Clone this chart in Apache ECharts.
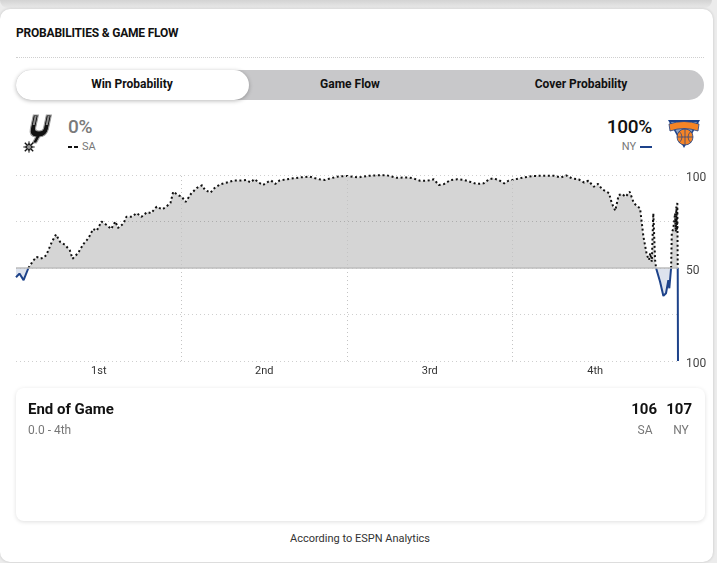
<!DOCTYPE html>
<html>
<head>
<meta charset="utf-8">
<script src="https://cdn.jsdelivr.net/npm/echarts@6/dist/echarts.min.js"></script>
<style>
  html, body { margin:0; padding:0; }
  body { width:717px; height:563px; position:relative; overflow:hidden; background:#ececec;
         font-family: "Roboto", "Liberation Sans", sans-serif; color:#111; }
  .topstrip { position:absolute; left:0; top:0; width:712px; height:8px;
              background:linear-gradient(#d3d3d3,#e9e9e9); border-radius:0 0 8px 8px; }
  .card { position:absolute; left:0; top:9px; width:713px; height:553px; background:#fff;
          border-radius:10px; box-shadow:0 0 3px rgba(0,0,0,.18); }
  .abs { position:absolute; white-space:nowrap; }
  .title { left:16px; top:26px; font-size:12px; font-weight:700; letter-spacing:-0.2px; }
  .sep { left:16px; top:57px; width:688px; height:0; border-top:1px dotted #cfcfcf; }
  .tabs { left:16px; top:70px; width:688px; height:30px; background:#c8c8ca; border-radius:15px; }
  .tabon { left:16px; top:70px; width:233px; height:30px; background:#fff; border-radius:15px;
           box-shadow:0 1px 4px rgba(0,0,0,.28); }
  .tabtxt { top:77px; font-size:12px; font-weight:700; transform:translateX(-50%); }
  .pct { top:115px; font-size:19px; font-weight:500; letter-spacing:-0.3px; }
  .abbr { top:140px; font-size:11px; color:#777; }
  .dash { display:inline-block; width:4px; height:2px; background:#111; vertical-align:middle; margin-right:2px; }
  #chart { position:absolute; left:0; top:160px; width:717px; height:225px; }
  .box { left:16px; top:388px; width:689px; height:133px; background:#fff; border-radius:8px;
         box-shadow:0 1px 4px rgba(0,0,0,.13); }
  .eog { font-size:15px; font-weight:700; top:400px; }
  .sub { font-size:12px; color:#777; top:423px; }
  .foot { left:360px; top:532px; font-size:11px; color:#333; transform:translateX(-50%); }
</style>
</head>
<body>
<div class="topstrip"></div>
<div class="card"></div>

<div class="abs title">PROBABILITIES &amp; GAME FLOW</div>
<div class="abs sep"></div>
<div class="abs tabs"></div>
<div class="abs tabon"></div>
<div class="abs tabtxt" style="left:132px">Win Probability</div>
<div class="abs tabtxt" style="left:350px">Game Flow</div>
<div class="abs tabtxt" style="left:581px">Cover Probability</div>

<!-- Spurs logo (simplified) -->
<svg class="abs" style="left:20px;top:112px" width="34" height="42" viewBox="0 0 34 42">
  <g transform="skewX(-12) translate(6,0)">
    <path d="M8 3 h5 v13 q0 3 4 3 q4 0 4 -3 v-13 h5 v14 q0 7 -7 8 l-2 6 h-4 l2 -6 q-7 -1 -7 -8 z"
          fill="#111" stroke="#a0a0a0" stroke-width="1.1"/>
    <rect x="9.5" y="4" width="2" height="9" fill="#8c8c8c"/>
    <rect x="22.5" y="4" width="2" height="9" fill="#8c8c8c"/>
  </g>
  <g transform="translate(9,35)">
    <path d="M0 -6 L1.6 -1.6 L6 0 L1.6 1.6 L0 6 L-1.6 1.6 L-6 0 L-1.6 -1.6 Z" fill="#111" stroke="#888" stroke-width="0.6"/>
    <path d="M-4.2 -4.2 L4.2 4.2 M4.2 -4.2 L-4.2 4.2" stroke="#111" stroke-width="1.4"/>
    <circle r="2" fill="#9a9a9a"/>
  </g>
</svg>

<div class="abs pct" style="left:68px;color:#7a7a7a">0%</div>
<div class="abs abbr" style="left:68px"><span class="dash"></span><span class="dash" style="margin-right:4px"></span>SA</div>

<div class="abs pct" style="right:65px;color:#111">100%</div>
<div class="abs abbr" style="right:65px">NY<span style="display:inline-block;width:12px;height:2px;background:#1d428a;vertical-align:middle;margin-left:4px"></span></div>

<!-- Knicks logo (simplified) -->
<svg class="abs" style="left:666px;top:114px" width="36" height="36" viewBox="0 0 36 36">
  <path d="M2 6 L34 6 L18 34 Z" fill="#1d428a"/>
  <path d="M5 8 L31 8 L18 31 Z" fill="#8fa3c4"/>
  <path d="M3 10 Q18 5 33 10 L32 17 Q18 12 4 17 Z" fill="#f58426" stroke="#1d428a" stroke-width="0.8"/>
  <circle cx="19" cy="23" r="8" fill="#f58426" stroke="#1d428a" stroke-width="0.8"/>
  <path d="M11 23 H27 M19 15 V31 M13 17 Q19 23 13 29 M25 17 Q19 23 25 29" stroke="#1d428a" stroke-width="0.7" fill="none"/>
</svg>

<div id="chart"></div>

<div class="abs box"></div>
<div class="abs eog" style="left:28px">End of Game</div>
<div class="abs sub" style="left:28px">0.0 - 4th</div>
<div class="abs eog" style="right:60px">106</div>
<div class="abs eog" style="right:25px">107</div>
<div class="abs sub" style="left:645px;transform:translateX(-50%)">SA</div>
<div class="abs sub" style="left:681px;transform:translateX(-50%)">NY</div>
<div class="abs foot">According to ESPN Analytics</div>

<script>
// Game time in minutes elapsed (0-48)
var times = [
  0, 0.25, 0.55, 0.9, 1.25, 1.5, 1.75, 2.0, 2.2, 2.6, 2.9, 3.2, 3.55, 3.9, 4.1, 4.5, 4.9, 5.25, 5.6, 5.85,
  6.2, 6.6, 6.9, 7.2, 7.4, 7.8, 8.0, 8.4, 8.75, 9.1, 9.5, 9.8, 10.2, 10.6, 10.9, 11.2, 11.4, 11.8, 12.0, 12.3,
  12.7, 13.1, 13.5, 13.7, 14.1, 14.4, 14.8, 15.3, 15.8, 16.2, 16.7, 17.0, 17.3, 17.6, 17.9, 18.3, 18.5, 18.8, 19.1, 19.6,
  20.1, 20.6, 21.3, 21.7, 22.0, 22.4, 22.8, 23.3, 24.0, 24.8, 25.5, 26.2, 26.9, 27.6, 28.4, 28.8, 29.3, 29.8, 30.3, 30.65,
  31.05, 31.5, 32.0, 32.5, 32.9, 33.4, 33.9, 34.3, 34.6, 35.0, 35.4, 35.7, 36.2, 36.8, 37.5, 38.3, 39.0, 39.5, 39.9, 40.3,
  40.8, 41.2, 41.5, 41.9, 42.2, 42.5, 43.0, 43.2, 43.45, 43.7, 43.95, 44.2, 44.5, 44.8, 45.25, 45.49, 45.74, 45.9, 45.98, 46.1,
  46.21, 46.34, 46.41, 46.7, 46.94, 47.13, 47.3, 47.37, 47.5, 47.55, 47.66, 47.79, 47.84, 47.88, 47.93, 47.95, 47.98, 48
];
// San Antonio win probability (%) ; New York = 100 - value
var saWinProb = [
  45, 47, 43.5, 50, 54, 56, 55, 55.5, 57, 64, 68, 64, 62.5, 59.5, 55, 58, 63, 66, 71, 70,
  75, 73, 71, 75, 71.5, 74, 77.5, 77.5, 79.5, 77.5, 80, 79.5, 83, 81.5, 83, 85, 91, 89, 88.5, 85.5,
  90, 93, 94.5, 92, 90.5, 93, 95, 96, 97, 97, 97.3, 96, 97.8, 96, 94.6, 96.4, 97, 95.2, 97, 97.7,
  98.2, 98.7, 99.1, 98.2, 97.7, 97.3, 98.2, 99.1, 99.5, 98.7, 99.5, 99.8, 99.8, 98.5, 98.7, 98.2, 96.9, 96.9, 97.7, 94.6,
  95.2, 97.3, 97.7, 97.3, 96.4, 95.2, 95.5, 97.7, 98.2, 97.3, 95.5, 96.9, 97.7, 98.7, 99.5, 99.6, 99.6, 98.7, 99.8, 98.2,
  97.7, 95.9, 96.9, 93.7, 95.2, 92.3, 90.2, 84.8, 80.8, 89.2, 89.8, 88.3, 91, 84.8, 82, 67, 57, 54.3, 58, 53.4,
  79.4, 54.3, 50, 42.6, 35, 36.4, 43.5, 39.1, 50, 68.6, 71.3, 79.4, 69.5, 83, 70.4, 85.6, 50, 0
];
var quarterLabels = ['1st', '2nd', '3rd', '4th'];
var quarterCenters = [6, 18, 30, 42];
var quarterBreaks = [12, 24, 36];

var saData = times.map(function (t, i) { var v = saWinProb[i]; return [t, v >= 50 ? v : '-']; });
var nyData = times.map(function (t, i) { var v = saWinProb[i]; return [t, v <= 50 ? v : '-']; });

var chart = echarts.init(document.getElementById('chart'), null, { renderer: 'canvas' });
chart.setOption({
  animation: false,
  grid: { left: 16, right: 39, top: 15, bottom: 24 },
  xAxis: {
    type: 'value', min: 0, max: 48, interval: 6,
    axisLine: { show: false }, axisTick: { show: false }, splitLine: { show: false },
    axisLabel: {
      margin: 5, color: '#333', fontSize: 11, fontFamily: 'Roboto',
      showMinLabel: false, showMaxLabel: false,
      formatter: function (v) { var k = quarterCenters.indexOf(v); return k >= 0 ? quarterLabels[k] : ''; }
    }
  },
  yAxis: {
    type: 'value', min: 0, max: 100, interval: 25, position: 'right',
    axisLine: { show: false }, axisTick: { show: false },
    splitLine: { show: true, lineStyle: { color: '#cfcfcf', type: [1, 3], width: 1 } },
    axisLabel: {
      margin: 8, color: '#444', fontSize: 12, fontFamily: 'Roboto', verticalAlign: 'top', padding: [-3, 0, 0, 0],
      formatter: function (v) { return (v === 100 || v === 0) ? '100' : (v === 50 ? '50' : ''); }
    }
  },
  series: [
    {
      name: 'SA', type: 'line', data: saData, showSymbol: false, connectNulls: false, z: 3,
      lineStyle: { color: '#111', width: 2, type: [2, 2.6] },
      areaStyle: { color: 'rgba(0,0,0,0.165)', origin: 50, opacity: 1 },
      markLine: {
        silent: true, symbol: 'none', label: { show: false },
        data: quarterBreaks.map(function (q) {
          return { xAxis: q, lineStyle: { color: '#c4c4c4', type: [1, 3], width: 1 } };
        }).concat([{ yAxis: 50, lineStyle: { color: '#bdbdbd', type: 'solid', width: 1.5 } }])
      }
    },
    {
      name: 'NY', type: 'line', data: nyData, showSymbol: false, connectNulls: false, z: 4,
      lineStyle: { color: '#1d428a', width: 2 },
      areaStyle: { color: 'rgba(29,66,138,0.15)', origin: 50, opacity: 1 }
    }
  ]
});
</script>
</body>
</html>
